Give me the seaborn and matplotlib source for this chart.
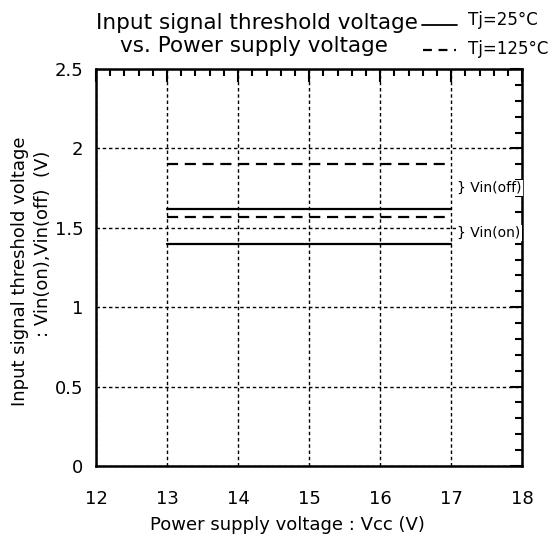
import pandas as pd
import matplotlib.pyplot as plt
import seaborn as sns
from matplotlib.ticker import MultipleLocator

# supply voltage range of the curves
vcc = [13, 17]
# threshold voltages (V)
vin_off_25 = [1.62, 1.62]
vin_on_25 = [1.40, 1.40]
vin_off_125 = [1.90, 1.90]
vin_on_125 = [1.57, 1.57]

rows = []
for name, temp, vals in [("off", "Tj=25°C", vin_off_25), ("on", "Tj=25°C", vin_on_25),
                         ("off", "Tj=125°C", vin_off_125), ("on", "Tj=125°C", vin_on_125)]:
    for x, y in zip(vcc, vals):
        rows.append({"Vcc": x, "Vin": y, "kind": name, "Tj": temp, "curve": name + temp})
df = pd.DataFrame(rows)

sns.set_style("white")
plt.rcParams["font.family"] = ["DejaVu Sans"]
plt.rcParams["text.color"] = "black"
plt.rcParams["axes.labelcolor"] = "black"
plt.rcParams["xtick.color"] = "black"
plt.rcParams["ytick.color"] = "black"

fig = plt.figure(figsize=(5.55, 5.39), dpi=100)
ax = fig.add_axes([0.173, 0.1354, 0.768, 0.7366])

sns.lineplot(data=df, x="Vcc", y="Vin", units="curve", style="Tj", estimator=None,
             color="black", linewidth=1.6, dashes={"Tj=25°C": "", "Tj=125°C": (5, 3)},
             legend=False, ax=ax)

ax.set_xlim(12, 18)
ax.set_ylim(0, 2.5)
ax.xaxis.set_major_locator(MultipleLocator(1))
ax.xaxis.set_minor_locator(MultipleLocator(0.2))
ax.yaxis.set_minor_locator(MultipleLocator(0.1))
ax.set_yticks([0, 0.5, 1, 1.5, 2, 2.5])
ax.set_yticklabels(["0", "0.5", "1", "1.5", "2", "2.5"])
ax.tick_params(which="both", direction="in", top=True, right=True)
ax.tick_params(which="major", length=9, width=1.5, labelsize=13)
ax.tick_params(which="minor", length=5, width=1.5)
ax.tick_params(axis="x", which="major", pad=17)
ax.tick_params(axis="y", which="major", pad=9)
ax.grid(True, which="major", color="black", linestyle=(0, (2.5, 2)), linewidth=1)
for s in ax.spines.values():
    s.set_color("black")
    s.set_linewidth(1.8)

ax.set_xlabel("Power supply voltage : Vcc (V)", fontsize=13)
ax.xaxis.set_label_coords(0.45, -0.125)
ax.set_ylabel("")
ax.text(-0.178, 0.49, "Input signal threshold voltage", transform=ax.transAxes,
        rotation=90, ha="center", va="center", fontsize=13)
ax.text(-0.125, 0.56, ": Vin(on),Vin(off)  (V)", transform=ax.transAxes,
        rotation=90, ha="center", va="center", fontsize=13)

fig.text(0.463, 0.958, "Input signal threshold voltage", ha="center", va="center", fontsize=15.5)
fig.text(0.458, 0.915, "vs. Power supply voltage", ha="center", va="center", fontsize=15.5)

# legend drawn in the top right corner
fig.add_artist(plt.Line2D([0.760, 0.823], [0.953, 0.953], color="black", lw=1.3))
fig.text(0.843, 0.962, "Tj=25°C", fontsize=12, va="center")
fig.add_artist(plt.Line2D([0.762, 0.822], [0.907, 0.907], color="black", lw=1.6, ls=(0, (4, 3))))
fig.text(0.843, 0.909, "Tj=125°C", fontsize=12, va="center")

box = dict(facecolor="white", edgecolor="none", pad=1)
ax.text(17.08, 1.75, "} Vin(off)", fontsize=10, va="center", bbox=box, clip_on=False)
ax.text(17.08, 1.467, "} Vin(on)", fontsize=10, va="center", bbox=box, clip_on=False)

fig.savefig("out.png", dpi=100)
